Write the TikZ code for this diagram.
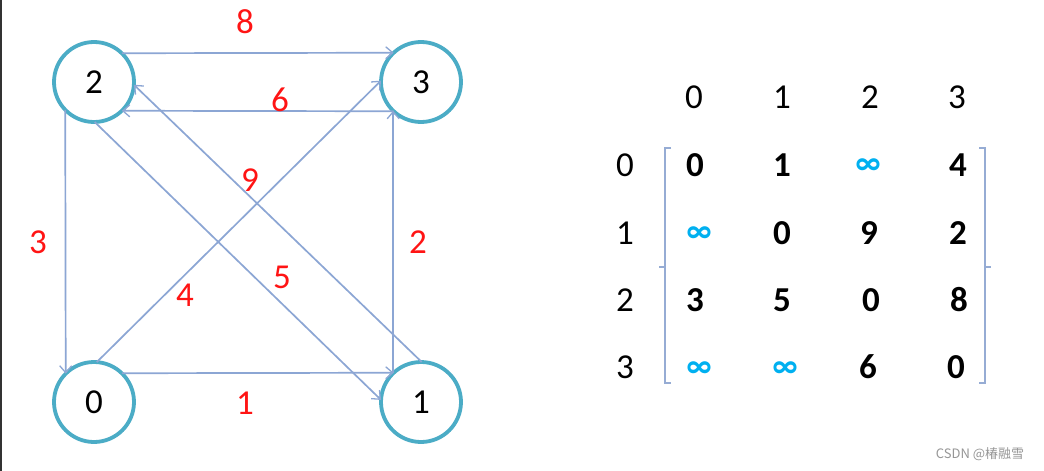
\documentclass[tikz,border=0pt]{standalone}
\usepackage{fontspec}
\setmainfont{Carlito}
\newfontfamily\cjk{Noto Sans CJK SC}
\usetikzlibrary{arrows.meta}
\definecolor{ring}{RGB}{75,172,198}
\definecolor{edgec}{RGB}{140,166,212}
\definecolor{lblred}{RGB}{255,20,20}
\definecolor{infc}{RGB}{0,176,240}
\definecolor{brk}{RGB}{150,172,212}
\tikzset{
  vert/.style={circle,draw=ring,line width=3.8pt,minimum size=80pt,inner sep=0pt,outer sep=0pt,font=\fontsize{35}{35}\selectfont},
  arc/.style={draw=edgec,line width=1.7pt,-{Straight Barb[length=7pt,width=12pt,line width=1.3pt]}},
  wlbl/.style={text=lblred,font=\fontsize{35}{35}\selectfont,inner sep=0pt},
  hdr/.style={font=\fontsize{35}{35}\selectfont,inner sep=0pt},
  ent/.style={font=\fontsize{35}{35}\selectfont\bfseries,inner sep=0pt},
  inf/.style={font=\fontsize{35}{35}\selectfont\bfseries,text=infc,inner sep=0pt},
  bracket/.style={draw=brk,line width=1.5pt}
}
\begin{document}
\begin{tikzpicture}[x=1pt,y=-1pt]
\useasboundingbox[fill=white] (0,0) rectangle (1044,471);
\draw[line width=2pt,color={rgb,255:red,50;green,50;blue,50}] (1,0) -- (1,471);
% vertices
\node[vert] (v2) at (94,82) {2};
\node[vert] (v3) at (421,82) {3};
\node[vert] (v0) at (94,402) {0};
\node[vert] (v1) at (421,402) {1};
% edges
\draw[arc] (v2.46.5) -- (v3.133.5);
\draw[arc] (v3.-133.5) -- (v2.-46.5);
\draw[arc] (v2.224.4) -- (v0.135.6);
\draw[arc] (v0.46.5) -- (v1.133.5);
\draw[arc] (v1.134.4) -- (v3.-134.4);
\draw[arc] (v0.86) -- (v3.178);
\draw[arc] (v2.-89) -- (v1.177);
\draw[arc] (v1.89) -- (v2.-4);
% weights
\node[wlbl] (w8) at (245,22) {8};
\node[wlbl] (w6) at (280,100) {6};
\node[wlbl] (w3) at (38,242) {3};
\node[wlbl] (w2) at (418,242) {2};
\node[wlbl] (w4) at (185,295) {4};
\node[wlbl] (w5) at (282,277) {5};
\node[wlbl] (w9) at (250,180) {9};
\node[wlbl] (w1) at (245,403) {1};
% matrix header
\node[hdr] (c0) at (694,97) {0};
\node[hdr] (c1) at (782,97) {1};
\node[hdr] (c2) at (870,97) {2};
\node[hdr] (c3) at (957,97) {3};
\node[hdr] (r0) at (625,165) {0};
\node[hdr] (r1) at (625,233) {1};
\node[hdr] (r2) at (625,300) {2};
\node[hdr] (r3) at (625,367) {3};
% entries
\node[ent] (m00) at (695,165) {0};
\node[ent] (m01) at (782,165) {1};
\node[inf,xscale=0.85] (m02) at (868,167) {∞};
\node[ent] (m03) at (958,165) {4};
\node[inf,xscale=0.85] (m10) at (699,235) {∞};
\node[ent] (m11) at (782,233) {0};
\node[ent] (m12) at (869,233) {9};
\node[ent] (m13) at (958,233) {2};
\node[ent] (m20) at (695,300) {3};
\node[ent] (m21) at (782,300) {5};
\node[ent] (m22) at (871,300) {0};
\node[ent] (m23) at (959,300) {8};
\node[inf,xscale=0.85] (m30) at (699,370) {∞};
\node[inf,xscale=0.85] (m31) at (785,370) {∞};
\node[ent] (m32) at (868,367) {6};
\node[ent] (m33) at (956,367) {0};
% brackets
\draw[bracket] (671,148) -- (665,148) -- (665,383) -- (671,383);
\draw[bracket] (665,267) -- (659,267);
\draw[bracket] (979,148) -- (985,148) -- (985,383) -- (979,383);
\draw[bracket] (985,267) -- (991,267);
% watermark
\node[text={rgb,255:red,150;green,150;blue,150},font=\fontsize{13}{13}\selectfont\cjk,inner sep=0pt] (wm) at (980,454) {CSDN @椿融雪};
\end{tikzpicture}
\end{document}
